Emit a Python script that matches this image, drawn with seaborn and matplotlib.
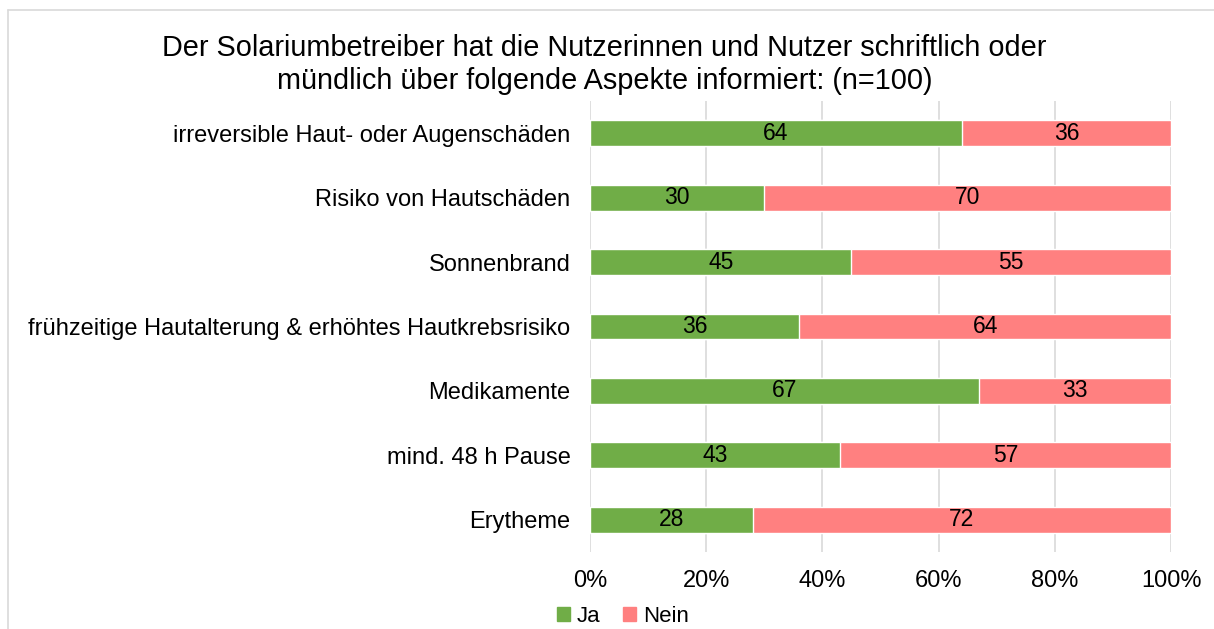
import matplotlib
matplotlib.use('Agg')
import matplotlib.pyplot as plt
import seaborn as sns
from matplotlib.patches import Patch
from matplotlib.lines import Line2D

kategorien = ['irreversible Haut- oder Augenschäden', 'Risiko von Hautschäden', 'Sonnenbrand',
              'frühzeitige Hautalterung & erhöhtes Hautkrebsrisiko', 'Medikamente',
              'mind. 48 h Pause', 'Erytheme']
ja = [64, 30, 45, 36, 67, 43, 28]
nein = [36, 70, 55, 64, 33, 57, 72]
gesamt = [j + n for j, n in zip(ja, nein)]

gruen = '#70AD47'
rosa = '#FF8080'

sns.set_style('white')
plt.rcParams['font.family'] = ['Liberation Sans', 'DejaVu Sans']
plt.rcParams['text.color'] = 'black'

fig = plt.figure(figsize=(12.14, 6.29), dpi=100)
ax = fig.add_axes([0.486, 0.1224, 0.4786, 0.717])

sns.barplot(x=gesamt, y=kategorien, color=rosa, width=0.4, saturation=1, ax=ax, zorder=2)
sns.barplot(x=ja, y=kategorien, color=gruen, width=0.4, saturation=1, ax=ax, zorder=3)

for i, (j, n) in enumerate(zip(ja, nein)):
    ax.text(j / 2, i, str(j), ha='center', va='center', fontsize=16.5, color='black', zorder=4)
    ax.text(j + n / 2, i, str(n), ha='center', va='center', fontsize=16.5, color='black', zorder=4)

ax.set_xlim(0, 100)
ax.set_ylim(6.5, -0.5)
ax.set_xticks([0, 20, 40, 60, 80, 100])
ax.set_xticklabels(['0%', '20%', '40%', '60%', '80%', '100%'])
ax.grid(axis='x', color='#D9D9D9', linewidth=1.2, zorder=0)
ax.set_axisbelow(True)
for s in ax.spines.values():
    s.set_visible(False)
ax.tick_params(axis='both', length=0, labelsize=17, colors='black')
ax.tick_params(axis='x', pad=13)
ax.tick_params(axis='y', pad=14)
ax.set_xlabel('')
ax.set_ylabel('')

fig.text(0.498, 0.897, 'Der Solariumbetreiber hat die Nutzerinnen und Nutzer schriftlich oder\n'
         'mündlich über folgende Aspekte informiert: (n=100)',
         ha='center', va='center', fontsize=20.8, linespacing=1.22, color='black')

handles = [Patch(color=gruen, label='Ja'), Patch(color=rosa, label='Nein')]
fig.legend(handles=handles, loc='center', bbox_to_anchor=(0.513, 0.02), ncol=2, frameon=False,
           fontsize=16, handlelength=0.6, handleheight=0.6, handletextpad=0.3, columnspacing=1.0)

# Rahmen oben und links
fig.add_artist(Line2D([0.0066, 0.0066], [0, 0.984], color='#D9D9D9', linewidth=1.2, transform=fig.transFigure))
fig.add_artist(Line2D([0.0066, 1], [0.984, 0.984], color='#D9D9D9', linewidth=1.2, transform=fig.transFigure))

fig.savefig('out.png', dpi=100)
